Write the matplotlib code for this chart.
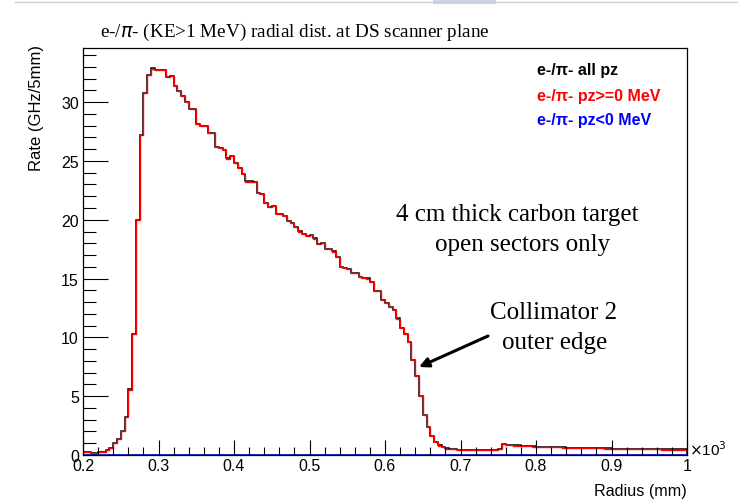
import numpy as np
import matplotlib.pyplot as plt
from matplotlib.lines import Line2D
from matplotlib.patches import Rectangle

plt.rcParams["font.family"] = ["Liberation Sans", "DejaVu Sans"]

# radius bins, 5 mm wide, in units of 10^3 mm
edges = np.round(np.arange(0.2, 1.0 + 1e-9, 0.005), 4)

# e-/pi- rate, pz >= 0 (GHz / 5mm)
rate_pos = [
    0.22, 0.22, 0.2, 0.2, 0.22, 0.25, 0.45, 0.59, 1.02, 1.38,
    2.06, 3.22, 5.56, 10.3, 20.0, 27.2, 30.8, 32.3, 32.85, 32.7,
    32.7, 32.7, 32.1, 32.2, 31.4, 30.96, 30.5, 29.97, 29.4, 29.4,
    28.1, 27.95, 28.0, 27.35, 27.35, 26.2, 26.1, 25.9, 25.2, 25.4,
    24.8, 24.4, 23.9, 23.25, 23.25, 23.2, 22.3, 22.2, 21.4, 21.1,
    21.2, 20.5, 20.5, 20.3, 19.9, 19.7, 19.4, 19.0, 18.8, 18.6,
    18.7, 18.4, 17.97, 18.05, 17.5, 17.5, 17.3, 16.8, 16.0, 15.9,
    15.8, 15.5, 15.45, 15.1, 15.05, 15.0, 14.7, 13.9, 13.9, 13.2,
    12.9, 12.6, 12.3, 11.6, 10.8, 10.3, 9.6, 8.1, 6.7, 5.0,
    3.4, 2.4, 1.6, 1.1, 0.8, 0.65, 0.55, 0.5, 0.5, 0.45,
    0.45, 0.42, 0.42, 0.4, 0.4, 0.42, 0.42, 0.45, 0.45, 0.45,
    0.5, 0.9, 0.85, 0.85, 0.8, 0.8, 0.78, 0.75, 0.75, 0.72,
    0.7, 0.7, 0.68, 0.68, 0.66, 0.65, 0.65, 0.63, 0.62, 0.62,
    0.6, 0.6, 0.6, 0.58, 0.58, 0.57, 0.56, 0.56, 0.55, 0.55,
    0.54, 0.53, 0.53, 0.52, 0.52, 0.5, 0.5, 0.5, 0.49, 0.48,
    0.48, 0.47, 0.47, 0.46, 0.46, 0.45, 0.45, 0.45, 0.44, 0.44,
]
# e-/pi- rate, pz < 0 (tiny)
rate_neg = [0.01] * 150 + [0.03] * 10
rate_all = list(np.array(rate_pos) + np.array(rate_neg))

title = r"e-/$\pi$- (KE>1 MeV) radial dist. at DS scanner plane"
legend_labels = ["e-/\u03c0- all pz", "e-/\u03c0- pz>=0 MeV", "e-/\u03c0- pz<0 MeV"]
legend_colors = ["black", "red", "blue"]
xticks = [0.2, 0.3, 0.4, 0.5, 0.6, 0.7, 0.8, 0.9, 1.0]
xticklabels = ["0.2", "0.3", "0.4", "0.5", "0.6", "0.7", "0.8", "0.9", "1"]
yticks = [0, 5, 10, 15, 20, 25, 30]

fig = plt.figure(figsize=(7.38, 5.02), dpi=100)
ax = fig.add_axes([83 / 738, 1 - 456 / 502, (687 - 83) / 738, (456 - 49) / 502])

ax.stairs(rate_all, edges, color="black", lw=1.1)
ax.stairs(rate_pos, edges, color="red", lw=1.0)
ax.stairs(rate_neg, edges, color="#0000cc", lw=1.2)

ax.set_xlim(0.2, 1.0)
ax.set_ylim(0, 34.6)
ax.set_xticks(xticks)
ax.set_xticklabels(xticklabels, fontsize=11.5)
ax.set_xticks(np.arange(0.2, 1.0 + 1e-9, 0.02), minor=True)
ax.set_yticks(yticks)
ax.set_yticklabels([str(v) for v in yticks], fontsize=11.5)
ax.set_yticks(np.arange(0, 34.6, 1), minor=True)
ax.tick_params(axis="both", which="both", direction="in", top=False, right=False)
ax.tick_params(axis="x", which="major", length=11, width=0.8, pad=2)
ax.tick_params(axis="x", which="minor", length=6, width=0.8)
ax.tick_params(axis="y", which="major", length=18, width=0.8, pad=3)
ax.tick_params(axis="y", which="minor", length=9, width=0.8)
for s in ax.spines.values():
    s.set_linewidth(0.9)

fig.text(295 / 738, 1 - 32 / 502, title, family="Liberation Serif", fontsize=13.8,
         ha="center", va="center")
fig.text(687 / 738, 1 - 492 / 502, "Radius (mm)", fontsize=11.6, ha="right", va="center")
fig.text(37 / 738, 1 - 45 / 502, "Rate (GHz/5mm)", fontsize=12, rotation=90,
         ha="center", va="top")
fig.text(689 / 738, 1 - 450 / 502, r"$\times$10$^3$", fontsize=11, ha="left", va="center")

for i, (lab, col) in enumerate(zip(legend_labels, legend_colors)):
    fig.text(537 / 738, 1 - (71 + 25 * i) / 502, lab, color=col, fontsize=11.5,
             fontweight="bold", ha="left", va="center")

serif = dict(family="Liberation Serif", fontsize=18, ha="center", va="center")
fig.text(517 / 738, 1 - 215 / 502, "4 cm thick carbon target", **serif)
fig.text(523 / 738, 1 - 245 / 502, "open sectors only", **serif)
fig.text(554 / 738, 1 - 313 / 502, "Collimator 2", **serif)
fig.text(555 / 738, 1 - 343 / 502, "outer edge", **serif)
ax.annotate("", xy=(419 / 738, 1 - 368 / 502), xytext=(488 / 738, 1 - 337 / 502),
            xycoords="figure fraction", textcoords="figure fraction",
            arrowprops=dict(arrowstyle="-|>", color="black", lw=2.2,
                            mutation_scale=14, shrinkA=0, shrinkB=0))

# screenshot edge bits
fig.add_artist(Line2D([15 / 738, 1], [1 - 3 / 502, 1 - 3 / 502], color="#cccccc", lw=1))
fig.add_artist(Rectangle((433 / 738, 1 - 5 / 502), 63 / 738, 5 / 502,
                         color="#c9d7ea", lw=0))

fig.savefig("out.png", dpi=100)
